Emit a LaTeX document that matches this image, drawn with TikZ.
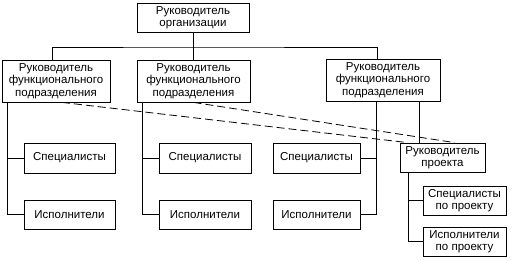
\documentclass[tikz,border=0pt]{standalone}
\usepackage{fontspec}
\setmainfont{Liberation Sans}
\usetikzlibrary{calc}

\tikzset{
  unitbox/.style={draw=black,line width=0.8pt,fill=white,inner sep=0pt,
    align=center,font=\fontsize{11.5}{12.5}\selectfont},
  link/.style={draw=black,line width=0.8pt},
  dashlink/.style={link,dash pattern=on 8pt off 4pt}
}

\begin{document}
\begin{tikzpicture}[x=1pt,y=-1pt]
\useasboundingbox (0,0) rectangle (517,260);

\node[unitbox,minimum width=112pt,minimum height=29pt] (org) at (193,17.5) {Руководитель\\организации};

\foreach \n/\x/\y/\w in {f1/56/81/108,f2/193.5/81/113,f3/383/80/114}
  \node[unitbox,minimum width=\w pt,minimum height=42pt] (\n) at (\x,\y) {Руководитель\\функционального\\подразделения};

\foreach \k/\x/\w in {1/69.5/91,2/205/92,3/316.5/87}{
  \node[unitbox,minimum width=\w pt,minimum height=30pt] (s\k) at (\x,158) {Специалисты};
  \node[unitbox,minimum width=\w pt,minimum height=29pt] (i\k) at (\x,214.5) {Исполнители};
}

\node[unitbox,minimum width=85pt,minimum height=29pt] (proj) at (442.5,157.5) {Руководитель\\проекта};
\node[unitbox,minimum width=83pt,minimum height=29pt] (ps) at (464.5,200.5) {Специалисты\\по проекту};
\node[unitbox,minimum width=83pt,minimum height=29pt] (pi) at (464.5,241.5) {Исполнители\\по проекту};

% top level
\coordinate (bus) at (193,47);
\draw[link] (org.south) -- (org.south |- f2.north);
\draw[link] ($(f1.north)+(-4,0)$) |- (bus) -| ($(f3.north)+(-6,0)$);

% functional units
\foreach \k in {1,2}{
  \coordinate (c\k) at ($(f\k.south west)+(6,0)$);
  \draw[link] (c\k) |- (i\k.west);
  \draw[link] (c\k |- s\k.west) -- (s\k.west);
}
\coordinate (c3) at ($(f3.south west)+(51,0)$);
\draw[link] (c3) |- (i3.east);
\draw[link] (c3 |- s3.east) -- (s3.east);

% project
\coordinate (p3) at ($(proj.north west)+(20,0)$);
\draw[link] (p3 |- f3.south) -- (p3);
\coordinate (pc) at ($(proj.south west)+(9,0)$);
\draw[link] (pc) |- (pi.west);
\draw[link] (pc |- ps.west) -- (ps.west);

\draw[dashlink] ($(f1.south)+(6,0)$) -- ($(proj.north west)+(8,0)$);
\draw[dashlink] (f2.south) -- ($(proj.north)+(12,0)$);

\end{tikzpicture}
\end{document}
